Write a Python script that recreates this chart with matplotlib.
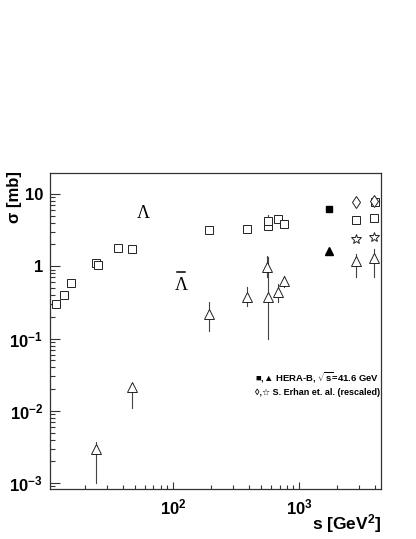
import numpy as np
import matplotlib.pyplot as plt
from matplotlib.ticker import FixedLocator, NullFormatter

plt.rcParams['font.family'] = ['Liberation Sans', 'DejaVu Sans']
plt.rcParams['font.weight'] = 'bold'
plt.rcParams['mathtext.fontset'] = 'custom'
plt.rcParams['mathtext.rm'] = 'Liberation Sans:bold'
plt.rcParams['mathtext.it'] = 'Liberation Sans:bold'
plt.rcParams['mathtext.bf'] = 'Liberation Sans:bold'

# Lambda, other experiments (open squares)
lam_s = [11.8, 13.6, 15.5, 24.5, 25.5, 37, 47, 193, 386, 565, 570, 680, 760, 2840, 3900, 4000]
lam_sig = [0.30, 0.40, 0.58, 1.1, 1.05, 1.78, 1.72, 3.2, 3.3, 3.6, 4.2, 4.5, 3.9, 4.35, 4.6, 7.7]
lam_lo = [0.30, 0.40, 0.58, 1.1, 1.05, 1.78, 1.72, 3.2, 3.3, 3.6, 3.2, 4.5, 3.9, 4.35, 4.6, 7.7]
lam_hi = [0.30, 0.40, 0.58, 1.1, 1.05, 1.78, 1.72, 3.2, 3.3, 3.6, 5.1, 4.5, 3.9, 4.35, 4.6, 7.7]

# Anti-Lambda, other experiments (open triangles)
alam_s = [24.5, 47, 193, 386, 560, 565, 680, 760, 2840, 3900]
alam_sig = [0.003, 0.021, 0.22, 0.38, 0.97, 0.38, 0.44, 0.62, 1.17, 1.3]
alam_lo = [0.001, 0.011, 0.125, 0.28, 0.70, 0.10, 0.32, 0.51, 0.70, 0.70]
alam_hi = [0.0037, 0.024, 0.32, 0.51, 1.37, 1.33, 0.56, 0.73, 1.5, 1.75]

# HERA-B
herab_s = [1730]
herab_lam = [6.2]
herab_alam = [1.6]

# S. Erhan et al. (rescaled)
erhan_s = [2840, 3900]
erhan_lam = [7.7, 8.1]
erhan_alam = [2.4, 2.5]

fig = plt.figure(figsize=(4.16, 5.39), dpi=100)
ax = fig.add_axes([0.12, 0.093, 0.796, 0.586])

ecol = '#444444'

def draw_errors(x, y, lo, hi):
    for xi, yi, l, h in zip(x, y, lo, hi):
        if h > l:
            ax.plot([xi, xi], [l, h], color=ecol, lw=0.8, zorder=1)

draw_errors(lam_s, lam_sig, lam_lo, lam_hi)
draw_errors(alam_s, alam_sig, alam_lo, alam_hi)

ax.plot(lam_s, lam_sig, 's', ms=5.5, mfc='white', mec='#222222', mew=0.7, ls='none', zorder=3)
ax.plot(alam_s, alam_sig, '^', ms=6.5, mfc='white', mec='#222222', mew=0.7, ls='none', zorder=3)
ax.plot(herab_s, herab_lam, 's', ms=5, color='black', ls='none', zorder=3)
ax.plot(herab_s, herab_alam, '^', ms=5.5, color='black', ls='none', zorder=3)
ax.plot(erhan_s, erhan_lam, 'd', ms=6.5, mfc='white', mec='#222222', mew=0.7, ls='none', zorder=3)
ax.plot(erhan_s, erhan_alam, '*', ms=7.5, mfc='white', mec='#222222', mew=0.7, ls='none', zorder=3)

ax.set_xscale('log')
ax.set_yscale('log')
ax.set_xlim(10.6, 4450)
ax.set_ylim(8.3e-4, 19.5)

ax.yaxis.set_major_locator(FixedLocator([1e-3, 1e-2, 1e-1, 1, 10]))
ax.set_yticklabels([r'$10^{-3}$', r'$10^{-2}$', r'$10^{-1}$', '1', '10'])
ymin = [m * 10.0**e for e in range(-4, 2) for m in range(2, 10)]
ax.yaxis.set_minor_locator(FixedLocator(ymin))
ax.yaxis.set_minor_formatter(NullFormatter())

ax.xaxis.set_major_locator(FixedLocator([100, 1000]))
ax.set_xticklabels([r'$10^{2}$', r'$10^{3}$'])
xmin = [m * 10.0**e for e in range(1, 4) for m in range(2, 10)]
ax.xaxis.set_minor_locator(FixedLocator(xmin))
ax.xaxis.set_minor_formatter(NullFormatter())

ax.tick_params(which='both', direction='in', top=False, right=False, labelsize=12, width=0.8, color='#333333')
ax.tick_params(axis='y', which='major', length=7, pad=5)
ax.tick_params(axis='y', which='minor', length=3.5)
ax.tick_params(axis='x', which='major', length=5, pad=6)
ax.tick_params(axis='x', which='minor', length=3)
for sp in ax.spines.values():
    sp.set_linewidth(0.9)
    sp.set_color('#333333')

ax.text(58, 5.4, 'Λ', fontfamily='Liberation Serif', fontweight='normal', fontsize=13, ha='center', va='center')
ax.text(116, 0.55, 'Λ', fontfamily='Liberation Serif', fontweight='normal', fontsize=13, ha='center', va='center')
ax.plot([108, 124.5], [0.82, 0.82], color='black', lw=1.1)

ax.text(0.62, 0.352, '■,▲ HERA-B, $\\sqrt{s}$=41.6 GeV', transform=ax.transAxes, fontsize=6.8, ha='left', va='center',
        fontfamily=['Liberation Sans', 'DejaVu Sans'])
ax.text(0.62, 0.305, '◊,☆ S. Erhan et. al. (rescaled)', transform=ax.transAxes, fontsize=6.5, ha='left', va='center',
        fontfamily=['Liberation Sans', 'DejaVu Sans'])

fig.text(0.035, 0.682, 'σ [mb]', rotation=90, ha='center', va='top', fontsize=12)
fig.text(0.916, 0.028, r's [GeV$^{2}$]', ha='right', va='center', fontsize=12.5)

fig.savefig('out.png', dpi=100)
